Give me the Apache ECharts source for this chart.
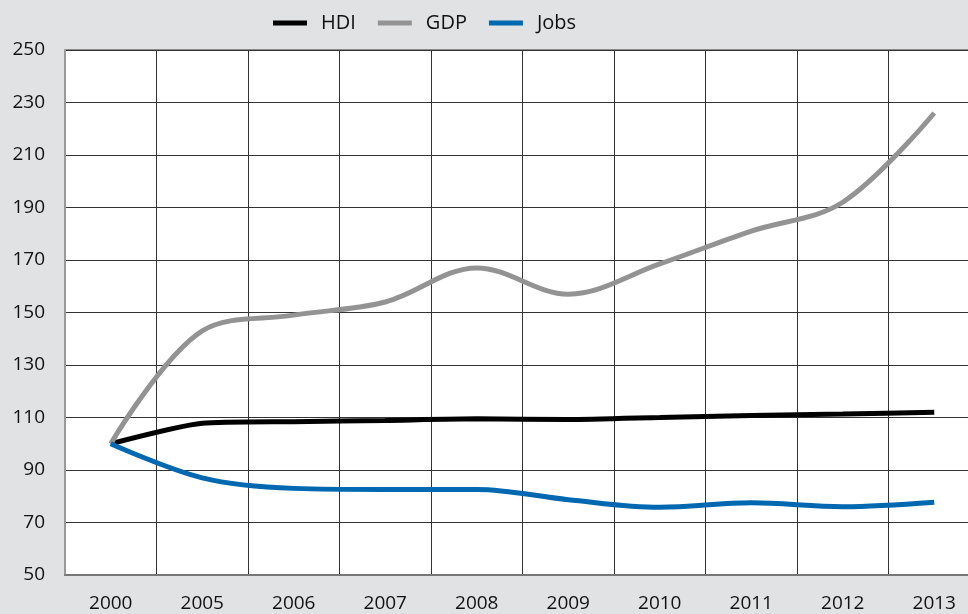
<!DOCTYPE html>
<html>
<head>
<meta charset="utf-8">
<script src="https://cdn.jsdelivr.net/npm/echarts@6/dist/echarts.min.js"></script>
<style>
  html, body { margin: 0; padding: 0; background: #e1e2e4; overflow: hidden; }
  /* 绘图区右侧在原图中被裁掉，所以容器比窗口略宽 */
  #chart { width: 980px; height: 614px; }
</style>
</head>
<body>
<div id="chart"></div>
<script>
// 类目与数据
var years = ['2000', '2005', '2006', '2007', '2008', '2009', '2010', '2011', '2012', '2013'];
var hdi = [100, 107.8, 108.4, 108.9, 109.5, 109.2, 110, 110.8, 111.3, 112];
var gdp = [100, 143, 149, 154, 167, 157, 168.5, 181, 192, 226];
var jobs = [100, 87, 83, 82.6, 82.6, 78.7, 75.8, 77.5, 76, 77.7];

var chart = echarts.init(document.getElementById('chart'));

var fontName = 'Open Sans';

function makeSeries(name, data, color, smooth) {
    return {
        name: name,
        type: 'line',
        data: data,
        smooth: smooth,
        symbol: 'none',
        lineStyle: { width: 5, color: color },
        itemStyle: { color: color }
    };
}

chart.setOption({
    backgroundColor: '#e1e2e4',
    animation: false,
    legend: {
        top: 8,
        left: 268,
        icon: 'rect',
        itemWidth: 34,
        itemHeight: 5,
        itemGap: 22,
        textStyle: { fontFamily: fontName, fontSize: 20, color: '#111', padding: [0, 0, 0, 9] },
        data: ['HDI', 'GDP', 'Jobs']
    },
    grid: {
        left: 65,
        right: 0,
        top: 50,
        bottom: 39,
        show: true,
        backgroundColor: '#ffffff',
        borderColor: '#333',
        borderWidth: 1
    },
    xAxis: {
        type: 'category',
        data: years,
        boundaryGap: true,
        axisLine: { lineStyle: { color: '#777', width: 2 } },
        axisTick: { show: false },
        axisLabel: { margin: 19, fontFamily: fontName, fontSize: 19, color: '#111' },
        splitLine: { show: true, lineStyle: { color: '#333', width: 1 } }
    },
    yAxis: {
        type: 'value',
        min: 50,
        max: 250,
        interval: 20,
        axisLine: { show: true, lineStyle: { color: '#999', width: 2 } },
        axisTick: { show: false },
        axisLabel: { margin: 20, fontFamily: fontName, fontSize: 19, color: '#111' },
        splitLine: { show: true, lineStyle: { color: '#333', width: 1 } }
    },
    series: [
        makeSeries('HDI', hdi, '#000000', 0.2),
        makeSeries('GDP', gdp, '#939393', 0.35),
        makeSeries('Jobs', jobs, '#0067b1', 0.35)
    ]
});
</script>
</body>
</html>
